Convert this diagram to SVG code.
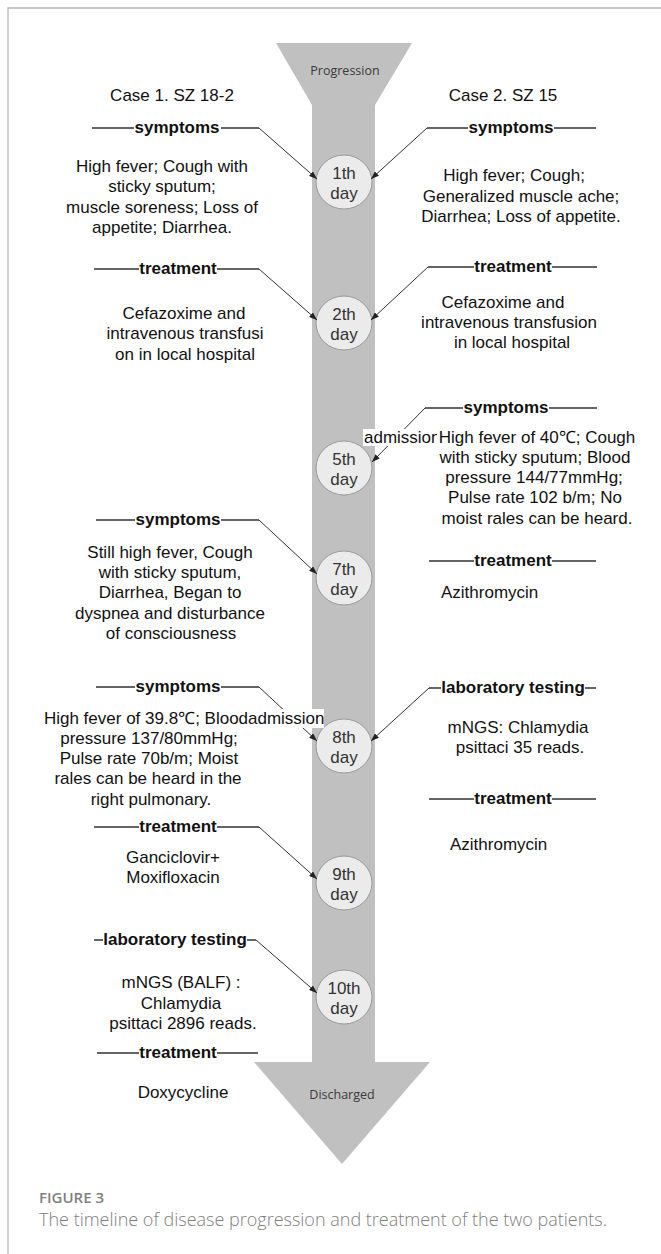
<svg xmlns="http://www.w3.org/2000/svg" width="661" height="1254" viewBox="0 0 661 1254">
<style>
.t{font-family:"Liberation Sans",Arial,sans-serif;font-size:17px;fill:#111}
.m{text-anchor:middle}
.b{font-weight:bold}
.hl{stroke:#333;stroke-width:1.3;fill:none}
.dg{stroke:#333;stroke-width:1;fill:none;marker-end:url(#ah)}
.day{fill:#ebebeb;stroke:#999;stroke-width:1}
.dt{font-family:"Liberation Sans",Arial,sans-serif;font-size:17px;fill:#333;text-anchor:middle}
.o{font-family:"Open Sans","Liberation Sans",sans-serif;font-size:12.5px;fill:#3a3a3a;text-anchor:middle}
.cap{font-family:"Open Sans","Liberation Sans",sans-serif;fill:#808080}
.wb{fill:#fff}
</style>
<defs>
<marker id="ah" markerUnits="userSpaceOnUse" markerWidth="8" markerHeight="6" refX="8" refY="3" orient="auto">
<path d="M0,0 L8,3 L0,6 z" fill="#222"/>
</marker>
</defs>
<rect width="661" height="1254" fill="#fff"/>
<g id="frame"><path d="M8,1254 V8 H661" fill="none" stroke="#b8b8b8" stroke-width="1.3"/></g>

<g id="timeline">
<path d="M276,43 H412 L375,105 V1062 H430 L342,1164 L254,1062 H312 V105 Z" fill="#c0c0c0"/>
<text class="o" x="345" y="75">Progression</text>
<text class="o" x="342" y="1099">Discharged</text>
</g>

<g id="case-titles">
<text class="t m" x="172" y="101">Case 1. SZ 18-2</text>
<text class="t m" x="503" y="101">Case 2. SZ 15</text>
</g>

<g id="days">
<g id="day1"><ellipse class="day" cx="344" cy="182" rx="28" ry="27"/><text class="dt" x="344" y="179">1th</text><text class="dt" x="344" y="199">day</text></g>
<g id="day2"><ellipse class="day" cx="344" cy="323" rx="28" ry="27"/><text class="dt" x="344" y="320">2th</text><text class="dt" x="344" y="340">day</text></g>
<g id="day5"><ellipse class="day" cx="344" cy="468" rx="28" ry="27"/><text class="dt" x="344" y="465">5th</text><text class="dt" x="344" y="485">day</text></g>
<g id="day7"><ellipse class="day" cx="344" cy="578" rx="28" ry="27"/><text class="dt" x="344" y="575">7th</text><text class="dt" x="344" y="595">day</text></g>
<g id="day8"><ellipse class="day" cx="344" cy="746" rx="28" ry="27"/><text class="dt" x="344" y="743">8th</text><text class="dt" x="344" y="763">day</text></g>
<g id="day9"><ellipse class="day" cx="344" cy="883" rx="28" ry="27"/><text class="dt" x="344" y="880">9th</text><text class="dt" x="344" y="900">day</text></g>
<g id="day10"><ellipse class="day" cx="344" cy="997" rx="28" ry="27"/><text class="dt" x="344" y="994">10th</text><text class="dt" x="344" y="1014">day</text></g>
</g>

<g id="connectors">
<path class="dg" d="M259,128 L317,179"/>
<path class="dg" d="M427,128 L371,179"/>
<path class="dg" d="M259,269 L317,320"/>
<path class="dg" d="M428,267 L371,320"/>
<path class="dg" d="M425,408 L372,462"/>
<path class="dg" d="M259,520 L317,574"/>
<path class="dg" d="M259,687 L317,741"/>
<path class="dg" d="M429,688 L371,741"/>
<path class="dg" d="M259,827 L317,879"/>
<path class="dg" d="M256,940 L317,993"/>
</g>

<g id="case1">
<g id="c1-symptoms-1">
<path class="hl" d="M92,128 H134 M221,128 H259"/>
<text class="t m b" x="177" y="133">symptoms</text>
<text class="t m" x="162"><tspan x="162" y="172">High fever; Cough with</tspan><tspan x="162" y="192">sticky sputum;</tspan><tspan x="162" y="213">muscle soreness; Loss of</tspan><tspan x="162" y="233">appetite; Diarrhea.</tspan></text>
</g>
<g id="c1-treatment-2">
<path class="hl" d="M94,269 H139 M217,269 H259"/>
<text class="t m b" x="178" y="274">treatment</text>
<text class="t m" x="185"><tspan x="184" y="319">Cefazoxime and</tspan><tspan x="185" y="339">intravenous transfusi</tspan><tspan x="185" y="360">on in local hospital</tspan></text>
</g>
<g id="c1-symptoms-7">
<path class="hl" d="M96,520 H135 M221,520 H259"/>
<text class="t m b" x="178" y="525">symptoms</text>
<text class="t m" x="170"><tspan x="170" y="558">Still high fever, Cough</tspan><tspan x="170" y="578">with sticky sputum,</tspan><tspan x="170" y="598">Diarrhea, Began to</tspan><tspan x="170" y="619">dyspnea and disturbance</tspan><tspan x="171" y="639">of consciousness</tspan></text>
</g>
<g id="c1-symptoms-8">
<path class="hl" d="M96,687 H135 M221,687 H259"/>
<text class="t m b" x="178" y="692">symptoms</text>
<text class="t m" x="149"><tspan x="146" y="724">High fever of 39.8℃; Blood</tspan><tspan x="149" y="744">pressure 137/80mmHg;</tspan><tspan x="149" y="764">Pulse rate 70b/m; Moist</tspan><tspan x="148" y="784">rales can be heard in the</tspan><tspan x="151" y="805">right pulmonary.</tspan></text>
<rect class="wb" x="248" y="709" width="76" height="19"/>
<text class="t" x="248" y="724">admission</text>
</g>
<g id="c1-treatment-9">
<path class="hl" d="M94,827 H139 M217,827 H259"/>
<text class="t m b" x="178" y="832">treatment</text>
<text class="t m" x="173"><tspan x="173" y="863">Ganciclovir+</tspan><tspan x="173" y="883">Moxifloxacin</tspan></text>
</g>
<g id="c1-lab-10">
<path class="hl" d="M94,940 H103 M247,940 H256"/>
<text class="t m b" x="175" y="945">laboratory testing</text>
<text class="t m" x="182"><tspan x="181" y="988">mNGS (BALF) :</tspan><tspan x="181" y="1009">Chlamydia</tspan><tspan x="183" y="1029">psittaci 2896 reads.</tspan></text>
</g>
<g id="c1-treatment-final">
<path class="hl" d="M97,1053 H139 M217,1053 H258"/>
<text class="t m b" x="178" y="1058">treatment</text>
<text class="t m" x="183" y="1098">Doxycycline</text>
</g>
</g>

<g id="case2">
<g id="c2-symptoms-1">
<path class="hl" d="M427,128 H468 M554,128 H596"/>
<text class="t m b" x="511" y="133">symptoms</text>
<text class="t m" x="519"><tspan x="514" y="181">High fever; Cough;</tspan><tspan x="521" y="202">Generalized muscle ache;</tspan><tspan x="521" y="222">Diarrhea; Loss of appetite.</tspan></text>
</g>
<g id="c2-treatment-2">
<path class="hl" d="M428,267 H474 M552,267 H597"/>
<text class="t m b" x="513" y="272">treatment</text>
<text class="t m" x="508"><tspan x="503" y="308">Cefazoxime and</tspan><tspan x="509" y="328">intravenous transfusion</tspan><tspan x="512" y="348">in local hospital</tspan></text>
</g>
<g id="c2-symptoms-5">
<path class="hl" d="M425,408 H463 M549,408 H597"/>
<text class="t m b" x="506" y="413">symptoms</text>
<rect class="wb" x="363" y="429" width="60" height="17"/>
<text class="t" x="364" y="443">admission</text>
<rect class="wb" x="437" y="428" width="200" height="100"/>
<text class="t m" x="536"><tspan x="537" y="443">High fever of 40℃; Cough</tspan><tspan x="535" y="463">with sticky sputum; Blood</tspan><tspan x="534" y="483">pressure 144/77mmHg;</tspan><tspan x="535" y="503">Pulse rate 102 b/m; No</tspan><tspan x="537" y="524">moist rales can be heard.</tspan></text>
</g>
<g id="c2-treatment-7">
<path class="hl" d="M429,561 H474 M552,561 H596"/>
<text class="t m b" x="513" y="566">treatment</text>
<text class="t" x="441" y="598">Azithromycin</text>
</g>
<g id="c2-lab-8">
<path class="hl" d="M429,688 H441 M585,688 H596"/>
<text class="t m b" x="513" y="693">laboratory testing</text>
<text class="t m" x="519"><tspan x="518" y="733">mNGS: Chlamydia</tspan><tspan x="520" y="753">psittaci 35 reads.</tspan></text>
</g>
<g id="c2-treatment-8">
<path class="hl" d="M429,799 H474 M552,799 H596"/>
<text class="t m b" x="513" y="804">treatment</text>
<text class="t" x="450" y="850">Azithromycin</text>
</g>
</g>

<g id="caption">
<text class="cap" x="39" y="1203" font-size="15" font-weight="600">FIGURE 3</text>
<text class="cap" x="39" y="1226" font-size="18" font-weight="300">The timeline of disease progression and treatment of the two patients.</text>
</g>
</svg>
